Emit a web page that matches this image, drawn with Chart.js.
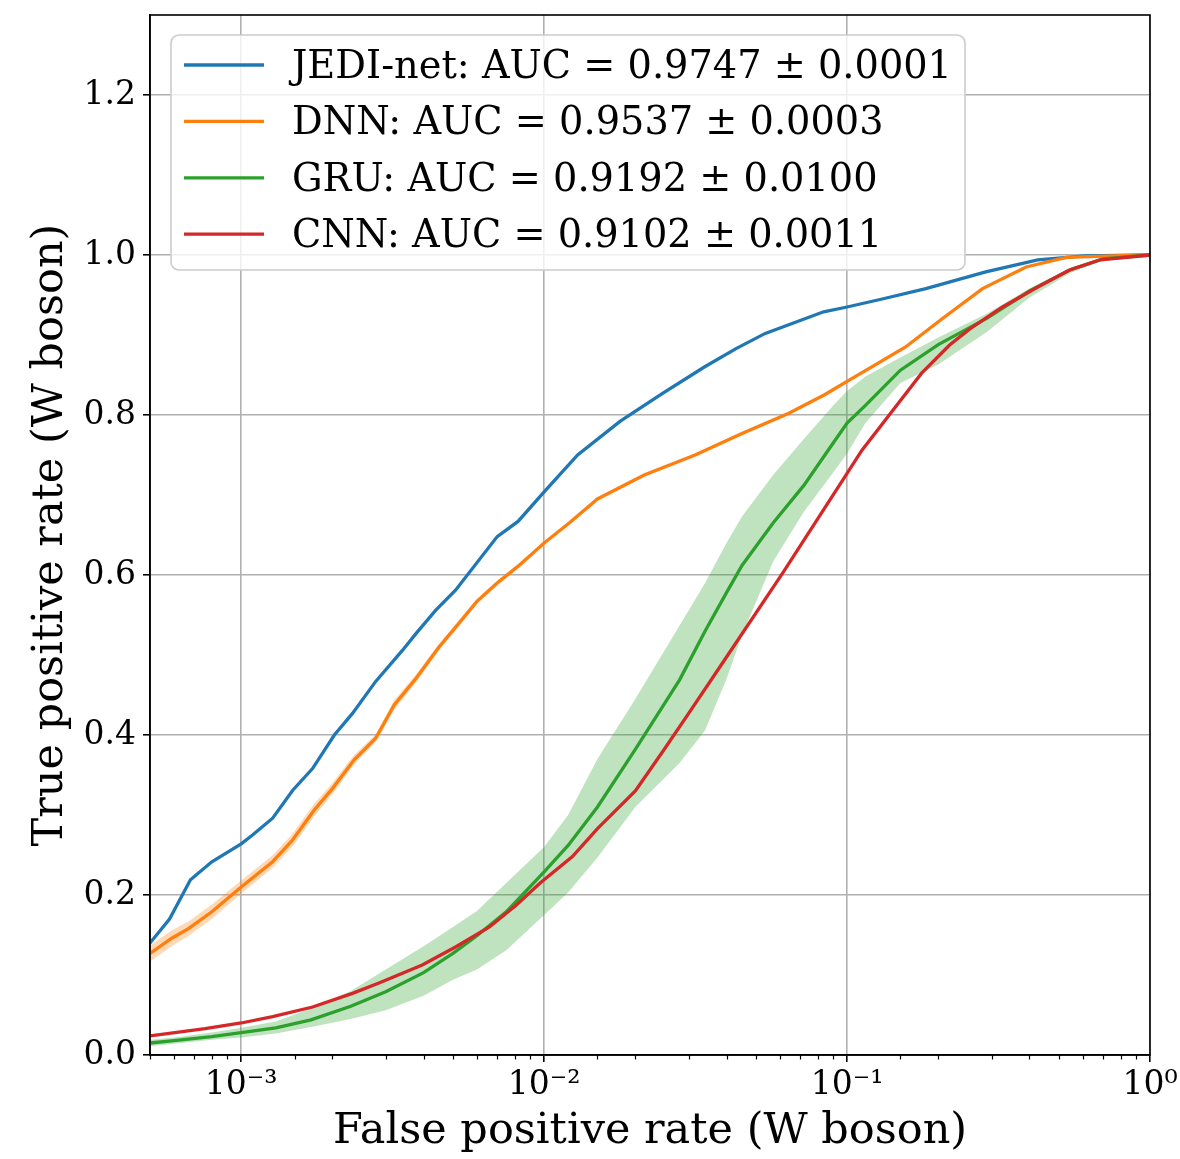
<!DOCTYPE html>
<html lang="en">
<head>
<meta charset="UTF-8">
<title>ROC curves - W boson tagging</title>
<script src="https://cdn.jsdelivr.net/npm/chart.js"></script>
<style>
  html, body { margin: 0; padding: 0; background: #fff; }
  #wrap { width: 1180px; height: 1159px; }
</style>
</head>
<body>
<div id="wrap"><canvas id="roc"></canvas></div>
<script>
  // legend labels and colours
  const modelLabels = [
    'JEDI-net: AUC = 0.9747 ± 0.0001',
    'DNN: AUC = 0.9537 ± 0.0003',
    'GRU: AUC = 0.9192 ± 0.0100',
    'CNN: AUC = 0.9102 ± 0.0011'
  ];
  const modelColors = ['#1f77b4', '#ff7f0e', '#2ca02c', '#d62728'];

  // JEDI-net
  const jediFpr = [5e-4, 5.8e-4, 6.8e-4, 8e-4, 1e-3, 1.09e-3, 1.27e-3, 1.48e-3, 1.72e-3, 2.03e-3, 2.33e-3, 2.78e-3, 3.41e-3, 3.78e-3, 4.39e-3, 5.1e-3, 7e-3, 8.2e-3, 0.01, 0.0129, 0.0178, 0.0246, 0.0338, 0.043, 0.0537, 0.0837, 0.1, 0.1306, 0.182, 0.287, 0.426, 0.61, 1.0];
  const jediTpr = [0.14, 0.17, 0.219, 0.2416, 0.264, 0.275, 0.296, 0.331, 0.358, 0.40, 0.427, 0.467, 0.506, 0.527, 0.556, 0.581, 0.648, 0.667, 0.704, 0.75, 0.792, 0.827, 0.860, 0.883, 0.902, 0.929, 0.935, 0.945, 0.958, 0.979, 0.994, 0.999, 1.0];

  // DNN (mean and half width of its band)
  const dnnFpr = [5e-4, 5.9e-4, 6.7e-4, 8e-4, 1e-3, 1.27e-3, 1.48e-3, 1.74e-3, 2e-3, 2.36e-3, 2.78e-3, 3.2e-3, 3.78e-3, 4.5e-3, 5.24e-3, 6e-3, 7e-3, 8.3e-3, 0.01, 0.0121, 0.015, 0.0214, 0.0315, 0.045, 0.064, 0.084, 0.1, 0.123, 0.156, 0.204, 0.28, 0.39, 0.53, 0.75, 1.0];
  const dnnTpr = [0.127, 0.146, 0.158, 0.179, 0.21, 0.2416, 0.269, 0.306, 0.333, 0.369, 0.396, 0.4375, 0.471, 0.510, 0.540, 0.567, 0.590, 0.6125, 0.640, 0.665, 0.695, 0.725, 0.75, 0.777, 0.802, 0.825, 0.842, 0.862, 0.885, 0.919, 0.958, 0.985, 0.997, 0.999, 1.0];
  const dnnSpread = [0.010, 0.010, 0.009, 0.009, 0.008, 0.008, 0.008, 0.008, 0.007, 0.006, 0.005, 0.006, 0.005, 0.004, 0.004, 0.003, 0.003, 0.003, 0.002, 0.002, 0.002, 0.002, 0.002, 0.002, 0.002, 0.002, 0.002, 0.002, 0.002, 0.002, 0.001, 0.001, 0.001, 0.0, 0.0];

  // GRU (mean with band)
  const gruFpr = [5e-4, 6e-4, 8e-4, 1e-3, 1.3e-3, 1.7e-3, 2.3e-3, 3e-3, 4e-3, 5e-3, 6e-3, 7.5e-3, 0.01, 0.012, 0.015, 0.02, 0.028, 0.034, 0.04, 0.045, 0.057, 0.072, 0.09, 0.1, 0.115, 0.15, 0.2, 0.29, 0.4, 0.55, 0.7, 1.0];
  const gruTpr = [0.015, 0.018, 0.023, 0.028, 0.034, 0.044, 0.061, 0.079, 0.103, 0.127, 0.149, 0.179, 0.229, 0.262, 0.31, 0.382, 0.469, 0.53, 0.578, 0.612, 0.665, 0.712, 0.765, 0.79, 0.812, 0.856, 0.888, 0.921, 0.955, 0.982, 0.995, 1.0];
  const gruHigh = [0.019, 0.022, 0.028, 0.034, 0.042, 0.058, 0.080, 0.107, 0.136, 0.160, 0.180, 0.215, 0.260, 0.300, 0.370, 0.445, 0.537, 0.59, 0.64, 0.673, 0.725, 0.770, 0.812, 0.830, 0.848, 0.872, 0.897, 0.927, 0.958, 0.984, 0.996, 1.0];
  const gruLow = [0.011, 0.014, 0.019, 0.022, 0.027, 0.035, 0.045, 0.056, 0.074, 0.094, 0.107, 0.131, 0.175, 0.203, 0.247, 0.31, 0.365, 0.406, 0.47, 0.525, 0.617, 0.679, 0.728, 0.752, 0.79, 0.84, 0.863, 0.904, 0.947, 0.978, 0.993, 1.0];

  // CNN
  const cnnFpr = [5e-4, 7.6e-4, 1e-3, 1.27e-3, 1.72e-3, 2.33e-3, 2.85e-3, 3.96e-3, 5.1e-3, 6.6e-3, 8.1e-3, 9.7e-3, 0.0124, 0.015, 0.02, 0.0248, 0.03, 0.0388, 0.0612, 0.1, 0.112, 0.139, 0.176, 0.218, 0.255, 0.326, 0.426, 0.54, 0.685, 1.0];
  const cnnTpr = [0.024, 0.033, 0.040, 0.048, 0.060, 0.077, 0.090, 0.1125, 0.135, 0.160, 0.1875, 0.215, 0.248, 0.283, 0.33, 0.381, 0.427, 0.49, 0.602, 0.727, 0.756, 0.802, 0.852, 0.8875, 0.908, 0.935, 0.96, 0.981, 0.994, 1.0];

  // axis ticks
  const xTickValues = [1e-3, 1e-2, 1e-1, 1];
  const xTickLabels = ['10⁻³', '10⁻²', '10⁻¹', '10⁰'];

  const FONT = '"DejaVu Serif", "Liberation Serif", serif';

  function pts(xs, ys) { return xs.map((x, i) => ({ x: x, y: ys[i] })); }
  function isDecade(v) {
    if (!(v > 0)) return false;
    const l = Math.log10(v);
    return Math.abs(l - Math.round(l)) < 1e-6;
  }

  function line(label, data, color, order) {
    return { label, data, borderColor: color, borderWidth: 3.3, pointRadius: 0, tension: 0, fill: false, order };
  }
  function bandEdge(data, color, fill, order) {
    return { label: '', data, borderWidth: 0, borderColor: 'rgba(0,0,0,0)', backgroundColor: color, pointRadius: 0, tension: 0, fill, order };
  }

  const datasets = [
    line(modelLabels[0], pts(jediFpr, jediTpr), modelColors[0], 8),
    bandEdge(pts(dnnFpr, dnnTpr.map((v, i) => v - dnnSpread[i])), 'rgba(255,127,14,0.3)', false, 7),
    bandEdge(pts(dnnFpr, dnnTpr.map((v, i) => v + dnnSpread[i])), 'rgba(255,127,14,0.3)', '-1', 6),
    line(modelLabels[1], pts(dnnFpr, dnnTpr), modelColors[1], 5),
    bandEdge(pts(gruFpr, gruLow), 'rgba(44,160,44,0.3)', false, 4),
    bandEdge(pts(gruFpr, gruHigh), 'rgba(44,160,44,0.3)', '-1', 3),
    line(modelLabels[2], pts(gruFpr, gruTpr), modelColors[2], 2),
    line(modelLabels[3], pts(cnnFpr, cnnTpr), modelColors[3], 1)
  ];

  // short minor tick marks on the log axis
  const minorTicks = {
    id: 'minorTicks',
    afterDraw(chart) {
      const xs = chart.scales.x, ctx = chart.ctx, b = chart.chartArea.bottom;
      ctx.save();
      ctx.strokeStyle = '#000';
      ctx.lineWidth = 1.2;
      xs.ticks.forEach(t => {
        if (isDecade(t.value)) return;
        const px = Math.round(xs.getPixelForValue(t.value)) + 0.5;
        ctx.beginPath(); ctx.moveTo(px, b); ctx.lineTo(px, b + 4.5); ctx.stroke();
      });
      ctx.restore();
    }
  };

  // full frame + legend box on top of the curves
  const frameAndLegend = {
    id: 'frameAndLegend',
    afterDatasetsDraw(chart) {
      const ctx = chart.ctx, a = chart.chartArea;
      ctx.save();
      ctx.strokeStyle = '#000';
      ctx.lineWidth = 1.6;
      ctx.strokeRect(a.left, a.top, a.right - a.left, a.bottom - a.top);

      const x = a.left + 21, y = a.top + 20, w = 794, h = 235;
      ctx.beginPath();
      ctx.roundRect(x, y, w, h, 8);
      ctx.fillStyle = 'rgba(255,255,255,0.8)';
      ctx.fill();
      ctx.strokeStyle = '#cccccc';
      ctx.lineWidth = 1.6;
      ctx.stroke();

      ctx.font = '38.3px ' + FONT;
      ctx.textBaseline = 'middle';
      ctx.textAlign = 'left';
      modelLabels.forEach((lab, i) => {
        const cy = y + 30 + i * 56.4;
        ctx.strokeStyle = modelColors[i];
        ctx.lineWidth = 3.3;
        ctx.beginPath(); ctx.moveTo(x + 13, cy); ctx.lineTo(x + 93, cy); ctx.stroke();
        ctx.fillStyle = '#000';
        ctx.fillText(lab, x + 121, cy + 3);
      });
      ctx.restore();
    }
  };

  new Chart(document.getElementById('roc'), {
    type: 'line',
    data: { datasets },
    options: {
      responsive: true,
      maintainAspectRatio: false,
      animation: false,
      layout: { padding: { top: 15, right: 30, left: 0, bottom: 0 } },
      plugins: { legend: { display: false }, tooltip: { enabled: false } },
      scales: {
        x: {
          type: 'logarithmic',
          min: 5e-4,
          max: 1,
          afterFit: s => { s.height = 104; s.paddingLeft = 0; s.paddingRight = 0; },
          grid: {
            color: c => isDecade(c.tick && c.tick.value) ? '#b0b0b0' : 'rgba(0,0,0,0)',
            lineWidth: 1.6,
            tickLength: 7,
            tickWidth: 1.6,
            tickColor: c => isDecade(c.tick && c.tick.value) ? '#000' : 'rgba(0,0,0,0)'
          },
          border: { display: true, color: '#000', width: 1.6 },
          ticks: {
            autoSkip: false,
            maxRotation: 0,
            minRotation: 0,
            padding: 4,
            color: '#000',
            font: { family: FONT, size: 33 },
            callback: v => {
              const k = xTickValues.findIndex(t => Math.abs(Math.log10(t) - Math.log10(v)) < 1e-6);
              return k >= 0 ? xTickLabels[k] : '';
            }
          },
          title: {
            display: true,
            text: 'False positive rate (W boson)',
            color: '#000',
            font: { family: FONT, size: 43 },
            padding: { top: 0, bottom: 1 }
          }
        },
        y: {
          min: 0,
          max: 1.3,
          afterFit: s => { s.width = 150; s.paddingTop = 0; s.paddingBottom = 0; },
          grid: { color: '#b0b0b0', lineWidth: 1.6, tickLength: 7, tickWidth: 1.6, tickColor: '#000' },
          border: { display: true, color: '#000', width: 1.6 },
          ticks: {
            stepSize: 0.2,
            includeBounds: false,
            padding: 7,
            color: '#000',
            font: { family: FONT, size: 33 },
            callback: v => v.toFixed(1)
          },
          title: {
            display: true,
            text: 'True positive rate (W boson)',
            color: '#000',
            font: { family: FONT, size: 43 },
            padding: { top: 25, bottom: 0 }
          }
        }
      }
    },
    plugins: [minorTicks, frameAndLegend]
  });
</script>
</body>
</html>
